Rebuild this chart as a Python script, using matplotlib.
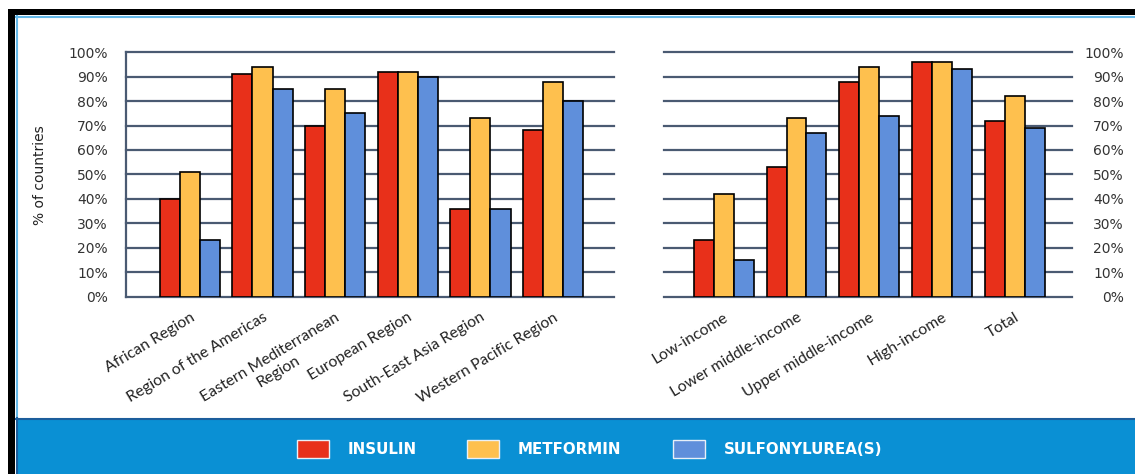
import matplotlib
matplotlib.use("Agg")
import matplotlib.pyplot as plt
from matplotlib.patches import Rectangle
from matplotlib.lines import Line2D
import numpy as np

# ---- data -------------------------------------------------------------
series = ["INSULIN", "METFORMIN", "SULFONYLUREA(S)"]

regions = ["African Region", "Region of the Americas",
           "Eastern Mediterranean\nRegion", "European Region",
           "South-East Asia Region", "Western Pacific Region"]
region_insulin = [40, 91, 70, 92, 36, 68]
region_metformin = [51, 94, 85, 92, 73, 88]
region_sulfonylurea = [23, 85, 75, 90, 36, 80]

income_groups = ["Low-income", "Lower middle-income", "Upper middle-income",
                 "High-income", "Total"]
income_insulin = [23, 53, 88, 96, 72]
income_metformin = [42, 73, 94, 96, 82]
income_sulfonylurea = [15, 67, 74, 93, 69]

yticks = [0, 10, 20, 30, 40, 50, 60, 70, 80, 90, 100]
ytick_labels = [f"{t}%" for t in yticks]

# ---- style ------------------------------------------------------------
colors = ["#e8301a", "#fec04e", "#5f8fdb"]
grid_color = "#4a5a72"
label_color = "#333333"
band_color = "#0a90d4"

W, H = 1135, 474
fig = plt.figure(figsize=(W / 100, H / 100), dpi=100)
fig.patch.set_facecolor("white")


def fx(px):
    return px / W


def fy(py):
    return 1 - py / H


def add_rect(x0, y0, x1, y1, **kw):
    fig.add_artist(Rectangle((fx(x0), fy(y1)), (x1 - x0) / W, (y1 - y0) / H,
                             transform=fig.transFigure, **kw))


def draw_group(ax, cats, values, width):
    x = np.arange(len(cats))
    for k, vals in enumerate(values):
        ax.bar(x + (k - 1) * width, vals, width=width, color=colors[k],
               edgecolor="black", linewidth=1.2, zorder=3)
    ax.set_ylim(0, 100)
    ax.set_yticks(yticks)
    for t in yticks:
        ax.axhline(t, color=grid_color, lw=1.6, zorder=1, clip_on=False)
    ax.set_xticks(x)
    ax.set_xticklabels(cats, rotation=31, ha="right", rotation_mode="anchor",
                       fontsize=11.3, family=["Lato", "DejaVu Sans"],
                       color="#222222", multialignment="center")
    ax.tick_params(axis="x", length=0, pad=10)
    for s in ["top", "right", "bottom", "left"]:
        ax.spines[s].set_visible(False)
    ax.set_facecolor("none")


# ---- left panel: WHO regions -----------------------------------------
ax1 = fig.add_axes([fx(126), fy(296.5), (613.7 - 126) / W, (296.5 - 52.3) / H])
draw_group(ax1, regions,
           [region_insulin, region_metformin, region_sulfonylurea], 0.277)
ax1.set_xlim(-0.88, 5.836)
ax1.spines["left"].set_visible(True)
ax1.spines["left"].set_color(grid_color)
ax1.spines["left"].set_linewidth(1.6)
ax1.set_yticklabels(ytick_labels, fontsize=10, color=label_color)
ax1.tick_params(axis="y", length=0, pad=13)

# ---- right panel: income groups --------------------------------------
ax2 = fig.add_axes([fx(664), fy(296.5), (1072 - 664) / W, (296.5 - 52.3) / H])
draw_group(ax2, income_groups,
           [income_insulin, income_metformin, income_sulfonylurea], 0.273)
ax2.set_xlim(-0.82, 4.784)
ax2.yaxis.tick_right()
ax2.set_yticklabels(ytick_labels, fontsize=10, color=label_color)
ax2.tick_params(axis="y", length=0, pad=37.4)
for lbl in ax2.get_yticklabels():
    lbl.set_ha("right")

fig.text(fx(40), fy(175), "% of countries", rotation=90, ha="center",
         va="center", fontsize=10, color="#222222",
         family=["Liberation Sans Narrow", "DejaVu Sans"])

# ---- frame ------------------------------------------------------------
add_rect(8, 9, 15, 474, facecolor="black", edgecolor="none")
add_rect(8, 9, 1135, 14.5, facecolor="black", edgecolor="none")
fig.add_artist(Line2D([fx(16.5), fx(16.5)], [fy(16), fy(418)],
                      transform=fig.transFigure, color="#64b8e8", lw=1.5))
fig.add_artist(Line2D([fx(16), fx(1135)], [fy(16.5), fy(16.5)],
                      transform=fig.transFigure, color="#64b8e8", lw=1.5))

# ---- legend band ------------------------------------------------------
add_rect(16, 418, 1135, 474, facecolor=band_color, edgecolor="none")
fig.add_artist(Line2D([fx(16), fx(1135)], [fy(418.5), fy(418.5)],
                      transform=fig.transFigure, color="#1b5d9c", lw=1.5))
fig.add_artist(Line2D([fx(16.5), fx(16.5)], [fy(418), fy(474)],
                      transform=fig.transFigure, color="#1b5d9c", lw=1.5))

box_x = [297, 467, 673]
text_x = [348, 518, 724]
for name, c, bx, tx in zip(series, colors, box_x, text_x):
    add_rect(bx, 440, bx + 32, 458, facecolor=c, edgecolor="#e8f0f8",
             linewidth=1.0)
    fig.text(fx(tx), fy(449.5), name, ha="left", va="center",
             fontsize=10.8, fontweight="bold", color="white")

fig.savefig("out.png", dpi=100)
